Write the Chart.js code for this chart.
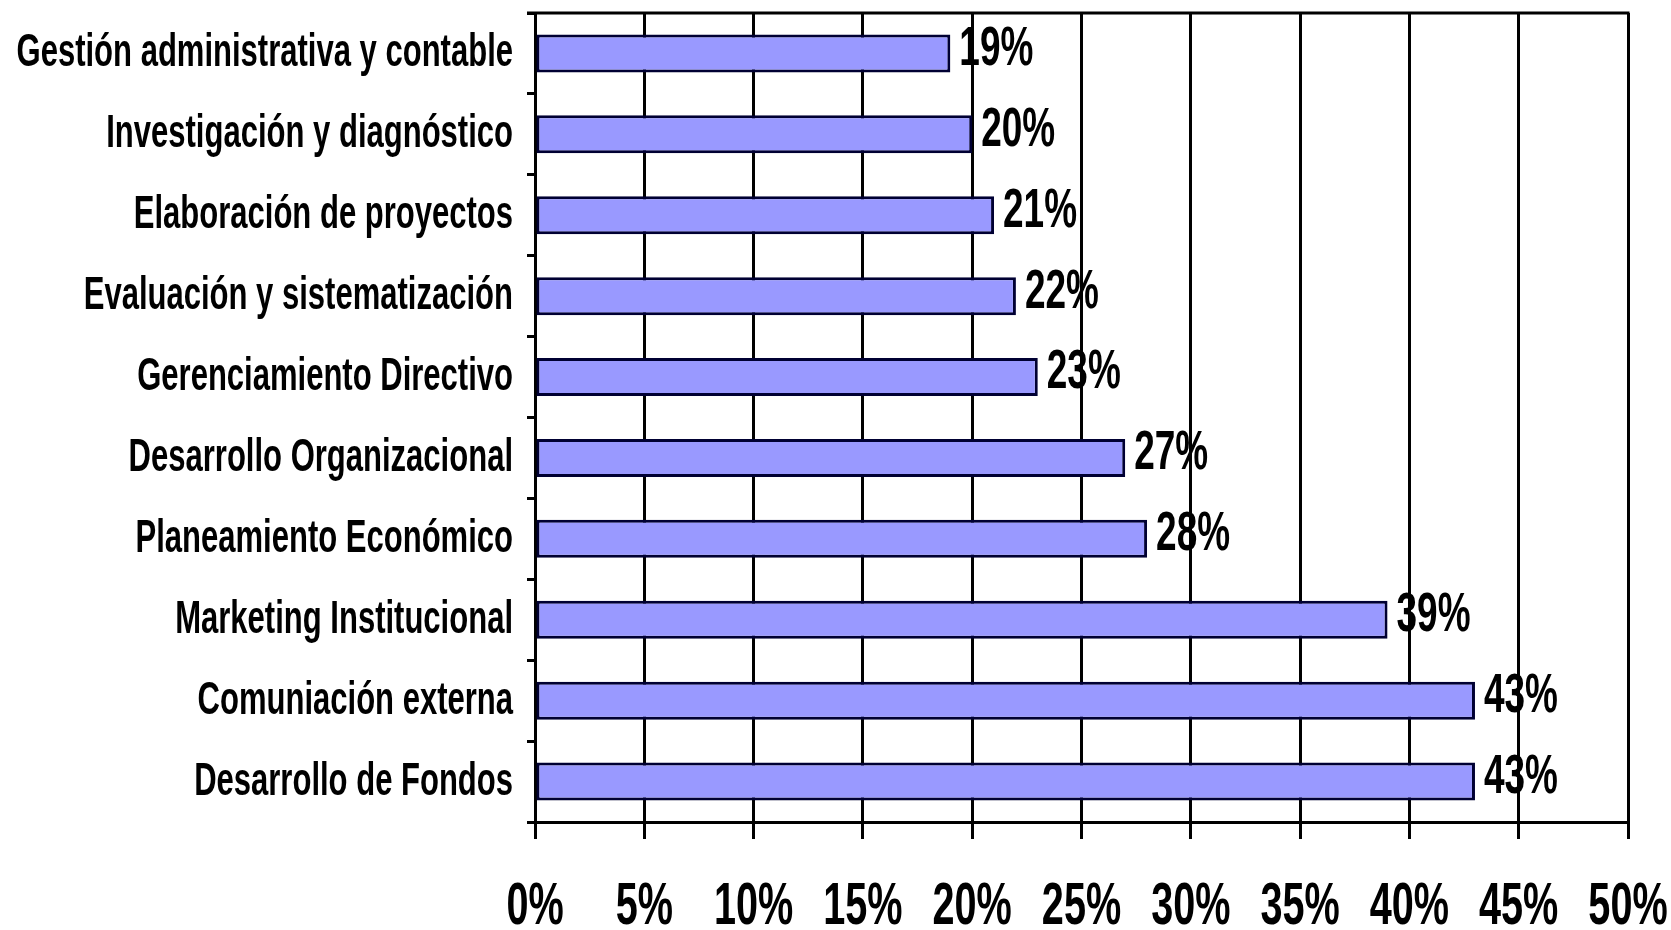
<!DOCTYPE html>
<html>
<head>
<meta charset="utf-8">
<script src="https://cdn.jsdelivr.net/npm/chart.js@4/dist/chart.umd.min.js"></script>
<style>
html,body{margin:0;padding:0;background:#fff;}
#wrap{width:1671px;height:930px;position:relative;}
</style>
</head>
<body>
<div id="wrap"><canvas id="c"></canvas></div>
<script>
const categories = [
  "Gestión administrativa y contable",
  "Investigación y diagnóstico",
  "Elaboración de proyectos",
  "Evaluación y sistematización",
  "Gerenciamiento Directivo",
  "Desarrollo Organizacional",
  "Planeamiento Económico",
  "Marketing Institucional",
  "Comuniación externa",
  "Desarrollo de Fondos"
];
const values = [19, 20, 21, 22, 23, 27, 28, 39, 43, 43];
const xTickStep = 5;
const xMax = 50;

const FONT = "'Liberation Sans', Arial, sans-serif";
const SX = 0.66; // horizontal condensing of all text (narrow typeface look)

const canvas = document.getElementById('c');
const ctx0 = canvas.getContext('2d');
const origFill = ctx0.fillText.bind(ctx0);
const origMeasure = ctx0.measureText.bind(ctx0);
ctx0.fillText = function(text, x, y, maxWidth) {
  ctx0.save();
  ctx0.translate(x, y);
  ctx0.scale(SX, 1);
  if (maxWidth !== undefined && maxWidth !== null) origFill(text, 0, 0, maxWidth / SX);
  else origFill(text, 0, 0);
  ctx0.restore();
};
ctx0.measureText = function(text) {
  const m = origMeasure(text);
  return {
    width: m.width * SX,
    actualBoundingBoxAscent: m.actualBoundingBoxAscent,
    actualBoundingBoxDescent: m.actualBoundingBoxDescent,
    actualBoundingBoxLeft: m.actualBoundingBoxLeft * SX,
    actualBoundingBoxRight: m.actualBoundingBoxRight * SX,
    fontBoundingBoxAscent: m.fontBoundingBoxAscent,
    fontBoundingBoxDescent: m.fontBoundingBoxDescent
  };
};

const valueLabels = {
  id: 'valueLabels',
  afterDatasetsDraw(chart) {
    const ctx = chart.ctx;
    const meta = chart.getDatasetMeta(0);
    ctx.save();
    ctx.fillStyle = '#000';
    ctx.font = "bold 56px " + FONT;
    ctx.textAlign = 'left';
    ctx.textBaseline = 'middle';
    meta.data.forEach((bar, i) => {
      ctx.fillText(values[i] + '%', bar.x + 9, bar.y - 4);
    });
    ctx.restore();
  }
};

const topBorder = {
  id: 'topBorder',
  afterDraw(chart) {
    const a = chart.chartArea;
    const ctx = chart.ctx;
    ctx.save();
    ctx.strokeStyle = '#000';
    ctx.lineWidth = 3;
    ctx.beginPath();
    ctx.moveTo(a.left - 8, a.top);
    ctx.lineTo(a.right + 1.5, a.top);
    ctx.stroke();
    ctx.restore();
  }
};

new Chart(canvas, {
  type: 'bar',
  data: {
    labels: categories,
    datasets: [{
      data: values,
      backgroundColor: '#9999FF',
      borderColor: '#000033',
      borderWidth: 3,
      borderSkipped: false,
      barPercentage: 0.47,
      categoryPercentage: 1.0
    }]
  },
  options: {
    indexAxis: 'y',
    responsive: true,
    maintainAspectRatio: false,
    animation: false,
    devicePixelRatio: 1,
    layout: { padding: { top: 13, right: 43, left: 0, bottom: 0 } },
    plugins: { legend: { display: false }, tooltip: { enabled: false } },
    scales: {
      x: {
        min: 0, max: xMax,
        ticks: {
          stepSize: xTickStep,
          color: '#000',
          font: { family: FONT, size: 60, weight: 'bold' },
          padding: 32,
          autoSkip: false,
          maxRotation: 0,
          minRotation: 0,
          callback: v => v + '%'
        },
        grid: { color: '#000', lineWidth: 3, tickLength: 17, drawTicks: true },
        border: { color: '#000', width: 3 },
        afterFit(scale) { scale.height = 108; scale.paddingLeft = 0; scale.paddingRight = 0; }
      },
      y: {
        ticks: {
          color: '#000',
          font: { family: FONT, size: 47, weight: 'bold' },
          padding: 14,
          autoSkip: false
        },
        grid: { drawOnChartArea: false, color: '#000', lineWidth: 3, tickLength: 8, offset: true },
        border: { color: '#000', width: 3 },
        afterFit(scale) { scale.width = 535; scale.paddingTop = 0; scale.paddingBottom = 0; }
      }
    }
  },
  plugins: [valueLabels, topBorder]
});
</script>
</body>
</html>
